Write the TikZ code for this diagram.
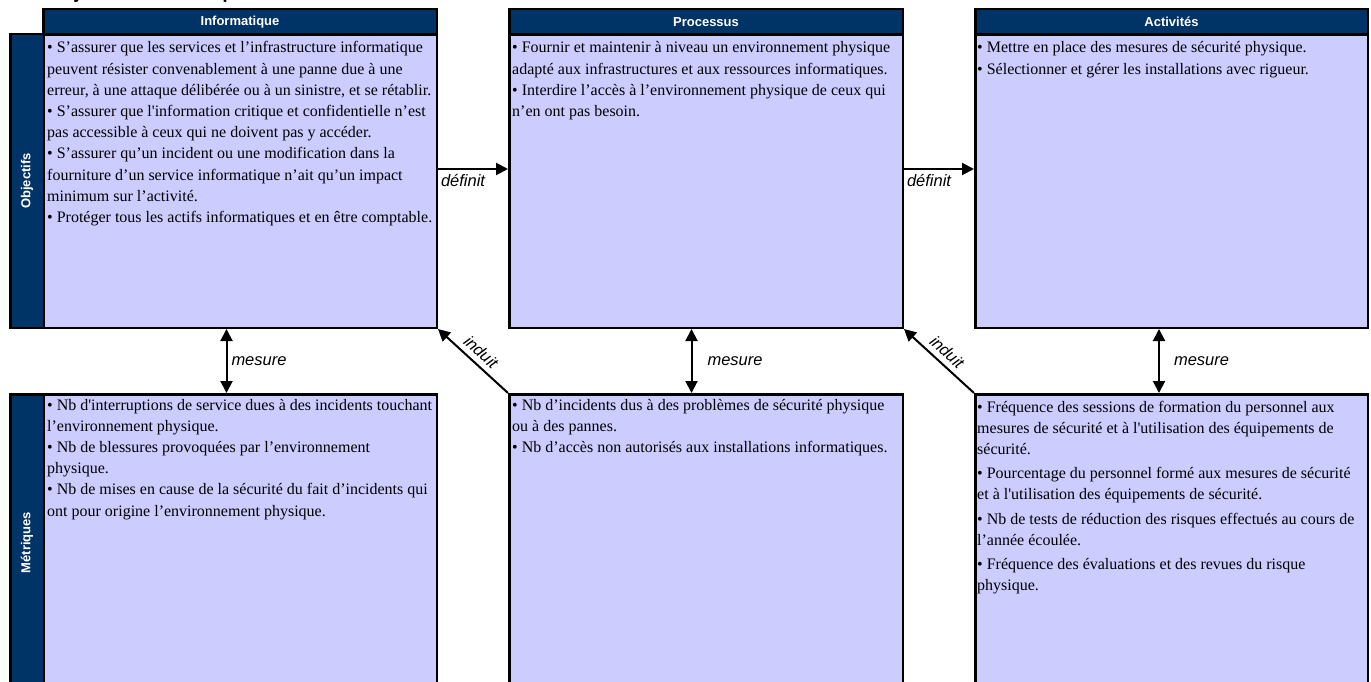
\documentclass[tikz,border=0pt]{standalone}
\usepackage{fontspec}
\usetikzlibrary{arrows.meta}
\newfontfamily\bodyfont{Liberation Serif}
\newfontfamily\headfont{Liberation Sans}
\definecolor{navy}{RGB}{0,51,102}
\definecolor{lav}{RGB}{204,204,255}

\tikzset{
  frame/.style={draw=black, line width=2.5pt, anchor=north west, inner sep=0pt},
  bodybox/.style={frame, fill=lav},
  headbox/.style={frame, fill=navy, text=white,
    font=\headfont\bfseries\fontsize{13}{15}\selectfont},
  sidebox/.style={frame, fill=navy},
  sidelabel/.style={rotate=90, text=white,
    font=\headfont\bfseries\fontsize{13}{15}\selectfont},
  txt/.style={anchor=base west, inner sep=0pt},
  lbl/.style={font=\headfont\itshape\fontsize{16.5}{19}\selectfont, inner sep=2pt},
  arr/.style={line width=2pt, -{Triangle[length=12pt,width=12pt]}},
  darr/.style={line width=2pt, {Triangle[length=12pt,width=12pt]}-{Triangle[length=12pt,width=12pt]}},
}
\newcommand{\boxtext}[2]{\parbox[t]{#1}{\bodyfont\fontsize{16}{21.2}\selectfont
  \raggedright\parindent=0pt #2}}

\begin{document}
\begin{tikzpicture}[x=1pt,y=-1pt]
\useasboundingbox (0,0) rectangle (1371,682);

% heading of the sheet (it runs off the top edge)
\node[anchor=base west, inner sep=0pt, font=\headfont\bfseries\fontsize{19}{22}\selectfont]
  (title) at (48,-1) {Objectifs informatiques};

% ---------- top row ----------
\node[bodybox, minimum width=393.5pt, minimum height=293.5pt] (infobody) at (42,33) {};
\node[headbox, minimum width=393.5pt, minimum height=25.5pt] (infohead) at (42,8) {Informatique};
\node[sidebox, minimum width=33.5pt, minimum height=293.5pt] (objside) at (9,33) {};
\node[sidelabel] (objlabel) at (objside.center) {Objectifs};

\node[bodybox, minimum width=393.5pt, minimum height=293.5pt] (procbody) at (508,33) {};
\node[headbox, minimum width=393.5pt, minimum height=25.5pt] (prochead) at (508,8) {Processus};

\node[bodybox, minimum width=392.5pt, minimum height=293.5pt] (actbody) at (974,33) {};
\node[headbox, minimum width=392.5pt, minimum height=25.5pt] (acthead) at (974,8) {Activités};

% ---------- bottom row ----------
\node[bodybox, minimum width=393.5pt, minimum height=296.5pt] (infomet) at (42,393) {};
\node[sidebox, minimum width=33.5pt, minimum height=296.5pt] (metside) at (9,393) {};
\node[sidelabel] (metlabel) at (metside.center) {Métriques};

\node[bodybox, minimum width=393.5pt, minimum height=296.5pt] (procmet) at (508,393) {};
\node[bodybox, minimum width=392.5pt, minimum height=296.5pt] (actmet) at (974,393) {};

% ---------- texts ----------
\node[txt] (infotxt) at (47,53) {\boxtext{392pt}{%
• S’assurer que les services et l’infrastructure informatique\\
peuvent résister convenablement à une panne due à une\\
erreur, à une attaque délibérée ou à un sinistre, et se rétablir.\\
• S’assurer que l'information critique et confidentielle n’est\\
pas accessible à ceux qui ne doivent pas y accéder.\\
• S’assurer qu’un incident ou une modification dans la\\
fourniture d’un service informatique n’ait qu’un impact\\
minimum sur l’activité.\\
• Protéger tous les actifs informatiques et en être comptable.}};

\node[txt] (proctxt) at (512,53) {\boxtext{392pt}{%
• Fournir et maintenir à niveau un environnement physique\\
adapté aux infrastructures et aux ressources informatiques.\\
• Interdire l’accès à l’environnement physique de ceux qui\\
n’en ont pas besoin.}};

\node[txt] (acttxt) at (977,53) {\boxtext{390pt}{%
• Mettre en place des mesures de sécurité physique.\\
• Sélectionner et gérer les installations avec rigueur.}};

\node[txt] (infomettxt) at (47,410) {\boxtext{392pt}{%
• Nb d'interruptions de service dues à des incidents touchant\\
l’environnement physique.\\
• Nb de blessures provoquées par l’environnement\\
physique.\\
• Nb de mises en cause de la sécurité du fait d’incidents qui\\
ont pour origine l’environnement physique.}};

\node[txt] (procmettxt) at (512,410) {\boxtext{392pt}{%
• Nb d’incidents dus à des problèmes de sécurité physique\\
ou à des pannes.\\
• Nb d’accès non autorisés aux installations informatiques.}};

\node[txt] (actmettxt) at (977,412) {\boxtext{390pt}{%
• Fréquence des sessions de formation du personnel aux\\
mesures de sécurité et à l'utilisation des équipements de\\
sécurité.\\[3pt]
• Pourcentage du personnel formé aux mesures de sécurité\\
et à l'utilisation des équipements de sécurité.\\[3pt]
• Nb de tests de réduction des risques effectués au cours de\\
l’année écoulée.\\[3pt]
• Fréquence des évaluations et des revues du risque\\
physique.}};

% ---------- connectors ----------
\draw[arr] ([yshift=12pt]infobody.east) -- ([yshift=12pt]procbody.west)
  node[lbl, pos=0, anchor=north west, yshift=-2pt] {définit};
\draw[arr] ([yshift=12pt]procbody.west -| procbody.east) -- ([yshift=12pt]actbody.west)
  node[lbl, pos=0, anchor=north west, yshift=-2pt] {définit};

\draw[darr] ([xshift=-13.5pt]infobody.south) -- ([xshift=-13.5pt]infomet.north)
  node[lbl, midway, anchor=west, xshift=2pt] {mesure};
\draw[darr] ([xshift=-14.5pt]procbody.south) -- ([xshift=-14.5pt]procmet.north)
  node[lbl, midway, anchor=west, xshift=13pt] {mesure};
\draw[darr] ([xshift=-12.5pt]actbody.south) -- ([xshift=-12.5pt]actmet.north)
  node[lbl, midway, anchor=west, xshift=12pt] {mesure};

\draw[arr] (procmet.north west) -- (infobody.south east)
  node[lbl, midway, sloped, above=3pt] {induit};
\draw[arr] (actmet.north west) -- (procbody.south east)
  node[lbl, midway, sloped, above=3pt] {induit};
\end{tikzpicture}
\end{document}
